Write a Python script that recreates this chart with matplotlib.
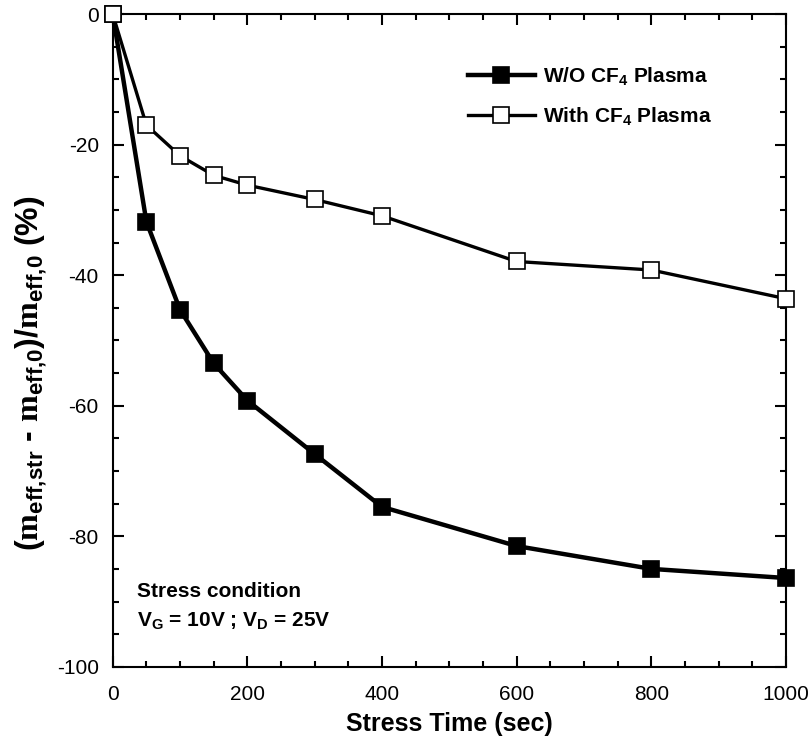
import numpy as np
import matplotlib.pyplot as plt
from matplotlib.ticker import MultipleLocator

plt.rcParams['font.family'] = 'Liberation Sans'
plt.rcParams['axes.unicode_minus'] = False
plt.rcParams['mathtext.fontset'] = 'custom'
plt.rcParams['mathtext.rm'] = 'Liberation Serif:bold'
plt.rcParams['mathtext.bf'] = 'Liberation Sans:bold'
plt.rcParams['mathtext.it'] = 'Liberation Sans:bold'

stress_time = [0, 50, 100, 150, 200, 300, 400, 600, 800, 1000]
wo_cf4 = [0, -31.8, -45.3, -53.5, -59.2, -67.4, -75.5, -81.5, -85.0, -86.4]
with_cf4 = [0, -17.0, -21.7, -24.7, -26.2, -28.4, -30.9, -37.9, -39.2, -43.6]

fig = plt.figure(figsize=(8.11, 7.45), dpi=100)
ax = fig.add_axes([0.139, 0.105, 0.830, 0.876])

ax.plot(stress_time, wo_cf4, color="black", linewidth=3.2, marker="s",
        markersize=12, markerfacecolor="black", markeredgecolor="black",
        markeredgewidth=1.2, label=r"W/O CF$_\mathbf{4}$ Plasma", clip_on=False, zorder=3)
ax.plot(stress_time, with_cf4, color="black", linewidth=2.4, marker="s",
        markersize=12, markerfacecolor="white", markeredgecolor="black",
        markeredgewidth=1.2, label=r"With CF$_\mathbf{4}$ Plasma", clip_on=False, zorder=4)

ax.set_xlim(0, 1000)
ax.set_ylim(-100, 0)
ax.xaxis.set_major_locator(MultipleLocator(200))
ax.xaxis.set_minor_locator(MultipleLocator(50))
ax.yaxis.set_major_locator(MultipleLocator(20))
ax.yaxis.set_minor_locator(MultipleLocator(5))
ax.tick_params(which="both", direction="in", top=True, right=True, width=1.5,
               labelsize=15, pad=10)
ax.tick_params(axis="x", pad=13)
ax.tick_params(which="major", length=8)
ax.tick_params(which="minor", length=4)
for s in ax.spines.values():
    s.set_linewidth(1.5)

ax.set_xlabel("Stress Time (sec)", fontsize=18, fontweight="bold", labelpad=6)
ax.set_ylabel(r"($\mathrm{m}_{\mathbf{eff{,}str}}$ - $\mathrm{m}_{\mathbf{eff{,}0}}$)/$\mathrm{m}_{\mathbf{eff{,}0}}$ (%)",
              fontsize=23, fontweight="bold")
ax.yaxis.set_label_coords(-0.095, 0.45)

leg = ax.legend(loc="upper left", bbox_to_anchor=(0.5, 0.95), frameon=False,
                prop={"weight": "bold", "size": 15}, handlelength=3.2,
                handletextpad=0.4, labelspacing=0.85)

ax.text(0.036, 0.115, "Stress condition", transform=ax.transAxes, fontsize=15,
        fontweight="bold", va="center")
ax.text(0.036, 0.07, r"V$_\mathbf{G}$ = 10V ; V$_\mathbf{D}$ = 25V", transform=ax.transAxes,
        fontsize=15, fontweight="bold", va="center")

fig.savefig("out.png", dpi=100)
